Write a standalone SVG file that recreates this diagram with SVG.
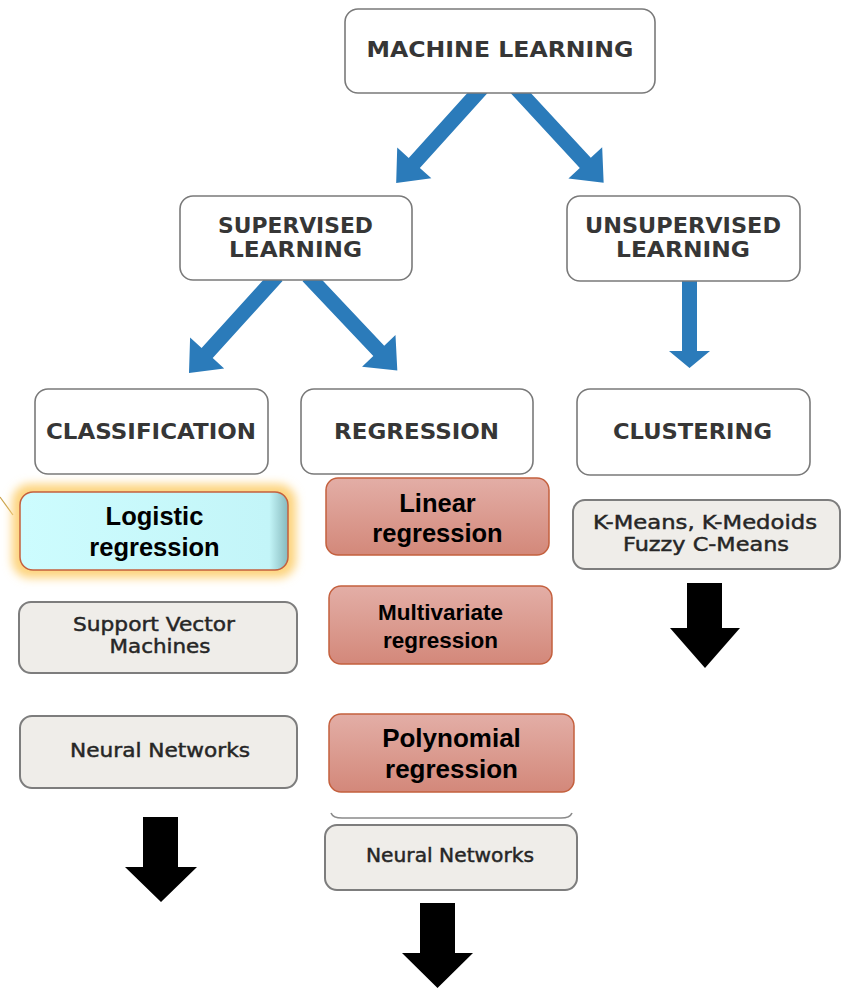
<svg xmlns="http://www.w3.org/2000/svg" width="842" height="988" viewBox="0 0 842 988">
<style>
.box{fill:#ffffff;stroke:#7a7a7a;stroke-width:1.6}
.gbox{fill:#efede9;stroke:#7d7d7d;stroke-width:2}
.rbox{fill:url(#redg);stroke:#c4603e;stroke-width:1.5}
.ttl{font-family:"DejaVu Sans",sans-serif;font-weight:bold;font-size:21.5px;fill:#363636;text-anchor:middle}
.gt{font-family:"DejaVu Sans",sans-serif;font-size:19px;fill:#262626;stroke:#262626;stroke-width:0.45;text-anchor:middle}
.bt{font-family:"Liberation Sans",Arial,sans-serif;font-weight:bold;fill:#000;text-anchor:middle}
.blue{fill:#2b7bba}
.blk{fill:#000}
</style>
<defs>
<linearGradient id="redg" x1="0" y1="0" x2="0" y2="1">
<stop offset="0" stop-color="#e3aea6"/>
<stop offset="1" stop-color="#d3887a"/>
</linearGradient>
<linearGradient id="cyang" x1="0" y1="0" x2="1" y2="0">
<stop offset="0" stop-color="#cdfcfe"/>
<stop offset="0.93" stop-color="#c3f5f8"/>
<stop offset="1" stop-color="#86b9bd"/>
</linearGradient>
<filter id="glow" x="-20%" y="-40%" width="140%" height="180%">
<feGaussianBlur stdDeviation="5"/>
</filter>
</defs>

<g id="connectors">
<polygon class="blue" transform="translate(482,88) rotate(132.1)" points="0,-7.5 101,-7.5 101,-23 128,0 101,23 101,7.5 0,7.5"/>
<polygon class="blue" transform="translate(516,88) rotate(47.2)" points="0,-7.5 102,-7.5 102,-23 129,0 102,23 102,7.5 0,7.5"/>
<polygon class="blue" transform="translate(277,276) rotate(132.2)" points="0,-7.5 104,-7.5 104,-23 131,0 104,23 104,7.5 0,7.5"/>
<polygon class="blue" transform="translate(308,276) rotate(46.6)" points="0,-7.5 103,-7.5 103,-23 130,0 103,23 103,7.5 0,7.5"/>
<polygon class="blue" points="682,278 697,278 697,351 710,351 689.5,368 669,351 682,351"/>
<polygon class="blk" points="687,583 722,583 722,628 740,628 705,668 670,628 687,628"/>
<polygon class="blk" points="143,817 178,817 178,867 197,867 161,902 125,867 143,867"/>
<polygon class="blk" points="420,903 455,903 455,953 473,953 437.5,988 402,953 420,953"/>
<line x1="0" y1="497" x2="13" y2="515" stroke="#c9a24a" stroke-width="1.2"/>
</g>

<g id="n-ml">
<rect class="box" x="345" y="9" width="310" height="84" rx="13"/>
<text class="ttl" x="500" y="57" textLength="267" lengthAdjust="spacingAndGlyphs">MACHINE LEARNING</text>
</g>
<g id="n-supervised">
<rect class="box" x="180" y="196" width="232" height="84" rx="13"/>
<text class="ttl" x="295.5" y="233" textLength="155" lengthAdjust="spacingAndGlyphs">SUPERVISED</text>
<text class="ttl" x="295.5" y="257" textLength="133" lengthAdjust="spacingAndGlyphs">LEARNING</text>
</g>
<g id="n-unsupervised">
<rect class="box" x="567" y="196" width="233" height="85" rx="13"/>
<text class="ttl" x="683" y="233" textLength="196" lengthAdjust="spacingAndGlyphs">UNSUPERVISED</text>
<text class="ttl" x="683" y="257" textLength="134" lengthAdjust="spacingAndGlyphs">LEARNING</text>
</g>
<g id="n-classification">
<rect class="box" x="35" y="389" width="233" height="85" rx="13"/>
<text class="ttl" x="151" y="439" textLength="210" lengthAdjust="spacingAndGlyphs">CLASSIFICATION</text>
</g>
<g id="n-regression">
<rect class="box" x="301" y="389" width="232" height="85" rx="13"/>
<text class="ttl" x="416.5" y="439" textLength="165" lengthAdjust="spacingAndGlyphs">REGRESSION</text>
</g>
<g id="n-clustering">
<rect class="box" x="577" y="389" width="233" height="86" rx="13"/>
<text class="ttl" x="692.5" y="439" textLength="159" lengthAdjust="spacingAndGlyphs">CLUSTERING</text>
</g>

<g id="n-logistic">
<rect x="12" y="484" width="284" height="94" rx="18" fill="#fdd47e" filter="url(#glow)"/>
<rect x="20" y="492" width="268" height="78" rx="13" fill="url(#cyang)" stroke="#c4603e" stroke-width="1.5"/>
<text class="bt" x="154.5" y="525" font-size="25.5">Logistic</text>
<text class="bt" x="154.5" y="556" font-size="25.5">regression</text>
</g>
<g id="n-linear">
<rect class="rbox" x="326" y="478" width="223" height="77" rx="12"/>
<text class="bt" x="437.5" y="512" font-size="25.5">Linear</text>
<text class="bt" x="437.5" y="542" font-size="25.5">regression</text>
</g>
<g id="n-kmeans">
<rect class="gbox" x="573" y="500" width="267" height="69" rx="12"/>
<text class="gt" x="705" y="529" font-size="18" textLength="224" lengthAdjust="spacingAndGlyphs">K-Means, K-Medoids</text>
<text class="gt" x="706" y="551" font-size="18" textLength="166" lengthAdjust="spacingAndGlyphs">Fuzzy C-Means</text>
</g>
<g id="n-svm">
<rect class="gbox" x="19" y="602" width="278" height="71" rx="12"/>
<text class="gt" x="154" y="631" font-size="17" textLength="162" lengthAdjust="spacingAndGlyphs">Support Vector</text>
<text class="gt" x="160" y="653" font-size="17" textLength="101" lengthAdjust="spacingAndGlyphs">Machines</text>
</g>
<g id="n-multivariate">
<rect class="rbox" x="329" y="586" width="223" height="78" rx="12"/>
<text class="bt" x="440.5" y="620" font-size="22.5">Multivariate</text>
<text class="bt" x="440.5" y="648" font-size="22.5">regression</text>
</g>
<g id="n-neural-left">
<rect class="gbox" x="20" y="716" width="277" height="72" rx="12"/>
<text class="gt" x="160" y="757" textLength="180" lengthAdjust="spacingAndGlyphs">Neural Networks</text>
</g>
<g id="n-polynomial">
<rect class="rbox" x="329" y="714" width="245" height="78" rx="12"/>
<text class="bt" x="451.5" y="747" font-size="26">Polynomial</text>
<text class="bt" x="451.5" y="778" font-size="26">regression</text>
</g>
<g id="n-neural-mid">
<path d="M331,813 Q333,818 342,818 L561,818 Q570,818 572,813" fill="none" stroke="#8a8a8a" stroke-width="1.6"/>
<rect class="gbox" x="325" y="825" width="252" height="65" rx="12"/>
<text class="gt" x="450" y="862" textLength="168" lengthAdjust="spacingAndGlyphs">Neural Networks</text>
</g>
</svg>
